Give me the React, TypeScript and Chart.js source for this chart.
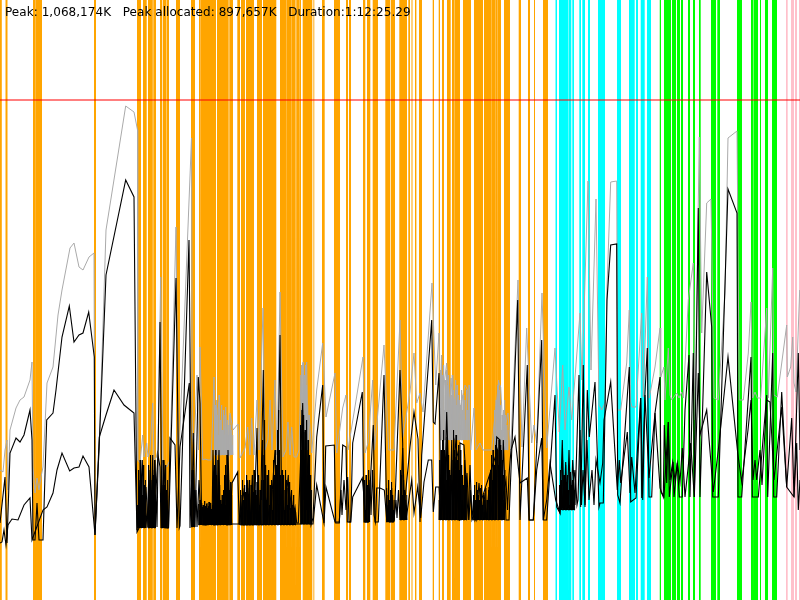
import React, { useEffect, useRef } from "react";
import { Chart, registerables } from "chart.js";

Chart.register(...registerables);

const summaryText = "Peak: 1,068,174K   Peak allocated: 897,657K   Duration:1:12:25.29";
const peakLevel = 500;

const orangeSpans = [[0,1.8],[5.5,7.5],[32,32.6],[33,35.2],[35.6,42],[94,96],[137,141],[143,146.7],[148,152.8],[153.3,156],[160,162.3],[163,166],[166.7,169],[176,180],[191,195],[198,198.6],[199,200],[200.4,216],[217,228.7],[229.3,233],[237.3,240],[241,245],[246,254],[257,262],[263,276.3],[280,286],[286.4,291],[291.4,295],[295.6,296],[296.4,299],[299.4,301],[302.7,312.3],[313.4,314.3],[322,324.7],[334,340],[341,341.5],[346,348],[349,351],[363,365.3],[367,370.3],[372.7,378],[385.3,390.3],[391,395],[399.3,407],[408.3,410],[411.5,412.5],[415,416.4],[419,422],[432.7,434],[438.7,440],[442,444],[447,450.7],[452,454],[454.5,460],[463,471],[474,483],[484,491],[491.4,495],[495.4,497],[497.4,501],[504,510],[518.7,521],[528,530],[534,535],[543,548]];
const cyanSpans = [[555.3,557],[559,568],[568.7,571.3],[572.3,574],[579.3,581],[582.3,585],[588,590],[598,604.3],[604.3,605],[617,621],[629,634],[634.5,635],[636,638],[640.7,644.7],[647,651]];
const greenSpans = [[659.5,661],[664,671],[672,676],[677,680],[681,683],[688,690],[693,695],[699,700.7],[711,716],[717.3,720],[737,742],[751,753],[753.7,758],[760,761],[765,768],[772,777]];
const pinkSpans = [[786,787.7],[791,794],[795,797],[799,800]];

const totalPoints = [[0,130],[3,128],[5,150],[7,160],[8,110],[10,170],[16,192],[20,200],[24,203],[30,220],[32,238],[33,133],[35,107],[37,122],[39,110],[41,123],[43,133],[47,217],[53,233],[58,285],[62,310],[70,352],[74,357],[79,333],[83,330],[89,343],[94,347],[95,67],[99,150],[106,370],[125.7,494],[134,488],[137.5,470],[137.7,140],[140,137],[142.7,165],[144,143],[146.7,157],[148,143],[150,150],[152.7,197],[154,140],[156,142],[158,150],[160.7,323],[163,137],[166.7,133],[170,140],[176,373],[178.3,140],[180,170],[191.5,462],[192.3,165],[194,150],[197,225],[198.5,150],[200,253],[202.7,140],[205,141],[208,140],[211,140],[212,165],[213,190],[214,223],[215,150],[216,185],[217,150],[218,190],[219,198],[220,150],[221,175],[222,145],[223,170],[224,145],[225.7,193],[227,150],[228,175],[229,145],[230,187],[233,170],[238,176],[240,142],[245,152],[247.7,173],[250,145],[251.7,182],[254,145],[257,200],[259,150],[263,292],[265,150],[268,160],[270,200],[272,150],[275,220],[277,145],[280,308],[283,143],[286,150],[288,178],[290,145],[291.7,173],[294,143],[296.7,143],[299,150],[301,225],[302,160],[303,237],[304.5,170],[306.7,238],[308,160],[309,185],[311.7,147],[316.7,210],[322.7,257],[326,183],[335,227],[336.7,147],[342.7,192],[346,205],[348,150],[363,243],[365,147],[368,157],[372.7,220],[374.5,150],[384,255],[388.7,150],[394,150],[400,280],[402.7,163],[410,208],[414,247],[416.7,197],[420,207],[423,188],[432,317],[435.7,215],[439,267],[441,190],[446.7,237],[449,193],[451,222],[453,193],[456.7,210],[459.3,187],[465,215],[467.7,210],[470.7,150],[474,192],[476,150],[480,157],[483,150],[491.7,150],[494,175],[498.7,218],[500.7,213],[503.3,163],[508,187],[510.7,150],[518,320],[522,153],[526.7,272],[531.7,157],[534,175],[536.7,157],[542,307],[546.7,152],[555,252],[559.3,168],[562.7,235],[565,170],[569,213],[571.7,180],[580,287],[582,220],[588,419],[591,230],[596,401],[599,195],[601.7,190],[605,197],[607,313],[610.7,418],[616.7,419],[617.7,190],[620.7,190],[626.7,237],[629.3,290],[630.7,198],[632,193],[636,193],[641.7,287],[643.3,203],[647.3,323],[649.3,202],[655,233],[660,272],[660.7,223],[664,233],[665,200],[668.3,252],[670,205],[671.7,200],[676.7,207],[679,202],[681.7,208],[683.3,202],[688.3,300],[693.3,337],[695,180],[699.3,463],[701.7,267],[706.7,397],[711,401],[714,202],[718.3,200],[725,307],[728,462],[737,469],[739.3,200],[743.3,200],[748.3,247],[751,298],[752.7,202],[755,208],[757.3,202],[760.7,202],[766.7,292],[768.3,202],[772.7,332],[774,205],[777.3,203],[786.7,275],[787.3,223],[790.7,233],[792.7,263],[794,217],[796,208],[799.7,310]];

const allocatedPoints = [[0,77],[5,123],[7,57],[10,147],[16,162],[20,158],[24,165],[30,190],[32,160],[33,60],[35,60],[37,97],[39,60],[41,60],[43,60],[46.7,180],[53,187],[56,210],[62,263],[69.3,294],[74,258],[79,265],[83,267],[88.7,288],[94.3,243],[95,65],[99,150],[106,325],[125.7,420],[134,403],[137,68],[139,72],[142.3,140],[144,73],[146,113],[148,73],[150,117],[151,73],[152.7,145],[154,73],[155,140],[157,73],[160,278],[162,72],[164,140],[166,72],[168.5,72],[176,322],[179.3,72],[180,74],[189,360],[191.7,73],[193.3,167],[195,73],[198.3,223],[200,197],[201.7,75],[203,95],[204,75],[205,93],[206,75],[207,97],[208,75],[209,92],[210,75],[211,90],[212,75],[213,150],[214.5,75],[216,150],[217,75],[219,150],[220,75],[221,100],[222,75],[223,90],[224,75],[226,125],[227,75],[228,150],[230,75],[232,117],[237.7,128],[239.3,75],[244.3,112],[245,75],[247.7,120],[250,75],[252.3,125],[254,75],[257,172],[258.3,75],[261,110],[263.3,230],[265,75],[266,100],[268,90],[270,75],[272,105],[275,150],[277,75],[280,265],[281.7,75],[283,100],[285,75],[286,100],[288.3,125],[289,90],[291,105],[293,85],[295,93],[296.7,77],[298.3,77],[302.7,197],[304,100],[305,168],[306.5,90],[308,150],[310,90],[311,75],[313,82],[316.7,163],[322.7,215],[324,77],[325.7,154],[334.3,155],[335.7,77],[339.3,77],[342.7,155],[346,153],[347.3,78],[350.7,78],[352.7,157],[362.3,208],[364,78],[368.3,78],[373.3,175],[375,78],[378.3,78],[384,225],[386.7,87],[389,78],[393.3,78],[394.3,80],[400,230],[402.7,157],[403,80],[410,153],[414,188],[418,161],[420,78],[421.7,145],[431.7,280],[433.3,178],[435,176],[439,227],[441,80],[443,150],[444,80],[446.7,188],[450,80],[451.7,160],[453,80],[455,143],[459,80],[460,157],[464,155],[468.3,80],[470,135],[472,80],[474,85],[476,80],[479,117],[481.7,80],[484,107],[486.7,80],[489,113],[492.7,80],[496.7,163],[500,160],[501.7,80],[503.3,160],[506,80],[509,80],[517.7,300],[520,80],[527.3,235],[529.3,80],[533.3,80],[541.7,260],[543.3,80],[546.7,80],[555,205],[556.7,93],[560,87],[562.3,160],[564,90],[565.7,138],[567.3,92],[569,150],[570.7,90],[572.7,140],[575,95],[579,225],[580.7,93],[583.3,235],[585,93],[587.3,210],[589.3,163],[595,218],[599,93],[600,97],[603.3,97],[607,300],[610.7,355],[616.7,356],[617.7,105],[620,97],[629.3,233],[630.7,98],[636,102],[640.7,202],[641.7,102],[645,207],[647.3,252],[649,103],[651.7,103],[655,187],[660,223],[661,108],[664,103],[668.3,178],[669.3,103],[673,138],[674,103],[677.3,137],[679.3,103],[682.3,103],[685,190],[689,245],[690,103],[693.3,247],[694.3,103],[698.3,392],[700,103],[706.7,328],[711.7,273],[712.7,103],[718.3,103],[728,411],[737,387],[738,103],[741.7,103],[751,243],[752.3,103],[758.3,103],[766.7,205],[767.7,103],[772.7,247],[773.7,103],[776.7,103],[781.7,208],[786.7,113],[794,103],[798.3,247],[800,150]];

const livePoints = [[0,57],[2,58],[4,70],[6,55],[8,75],[12,81],[18,80],[24,95],[30,102],[32,60],[43,90],[47,93],[53,107],[57,130],[62,147],[69.7,129],[74,132],[79,133],[83,144],[89,133],[95,65],[99.3,163],[106,185],[114,210],[124,195],[134,187],[137,70],[140,120],[141,72],[145,105],[147,72],[149,130],[150.5,72],[152,120],[153.5,72],[156,110],[158,145],[160,133],[161,72],[163,115],[165,72],[167,100],[168.5,72],[170,162],[175,155],[177,72],[180,153],[189.3,217],[190,72],[192,130],[194,73],[196,110],[197,73],[199,120],[200.5,90],[213.5,75],[231,76],[239,76],[240.5,100],[242,75],[300,76],[313,76],[316.7,115],[324,77],[326,113],[335,78],[339.3,78],[341,110],[342,85],[344,120],[346,90],[347.7,123],[349,78],[350.7,78],[352.7,103],[362.3,122],[364,103],[365.5,78],[368,78],[370,120],[371,85],[372.5,130],[374,85],[375.5,78],[376.7,112],[380,112],[384.3,110],[386.7,80],[388,95],[389.5,78],[391.7,112],[392.5,80],[394,80],[396,100],[397,82],[398.5,110],[400,80],[402.7,152],[404,110],[407,87],[411.7,120],[414,87],[417.7,113],[420.7,82],[424,118],[428.3,140],[431.7,140],[433.3,88],[435.7,113],[439,113],[441,80],[443,120],[445,80],[447,163],[449,80],[452,120],[453.5,80],[455,158],[458,143],[459.5,80],[463,82],[467,127],[469,80],[470.5,110],[472,80],[473.5,100],[475,80],[497.5,150],[498.5,80],[506,120],[507.5,90],[509,125],[511,150],[515,163],[520,117],[527.3,122],[529,80],[533.3,80],[536.7,130],[541.7,162],[543.3,80],[546.7,100],[550,137],[555.7,100],[560,87],[561,115],[562.5,92],[564,125],[565,90],[567,115],[568.5,92],[570,125],[571.5,90],[573,115],[575,130],[577,95],[578,100],[580,170],[581.5,95],[583,130],[585,95],[587,160],[589,100],[592,130],[594,95],[596,140],[600,117],[602.7,137],[604,180],[610.7,218],[617.3,110],[619.3,140],[620.7,117],[627.3,168],[630,107],[631.7,143],[635,107],[637.3,148],[640.7,202],[642.7,100],[645,205],[649,122],[655,187],[660,112],[663.3,103],[664.3,175],[666.7,117],[668.3,178],[670,120],[672.7,138],[675,120],[677.3,137],[680,118],[682.3,152],[685,103],[690.7,157],[694.3,103],[698.3,227],[700,165],[706.7,190],[713.3,108],[718.3,150],[728,243],[737.7,147],[741.7,118],[748,170],[751,200],[753,120],[755,140],[756.7,120],[760,150],[762,115],[766.7,200],[770,198],[774,120],[781.7,193],[786.7,113],[791.7,182],[794,103],[796.7,157],[798.3,90],[800,120]];

// Short bursts of samples: [first x, floor level, peak of each sample]
const liveBursts: [number, number, number[]][] = [
  [137.5, 72, [95,130,85,110,140,90,125,80,105,135,95,115,85,120]],
  [148, 72, [100,135,90,120,145,85,110,130,95,125,90,140,105]],
  [161, 72, [95,120,85,140,100,115,90,135,85,110,95,120]],
  [191, 73, [90,120,80,130,95,110,85]],
  [198.5, 75, [96,90,100,92,88,97,93,89,95,91,99,94,90,96,92,88,94,98,90,93,97,91,89,95,120,105,135,100,150,110,125,95,140,105,115,90,100,88,96,105,92,110,100,125,95,135,110,145,100,120,90,110,95,118,100,105]],
  [240, 75, [95,110,88,105,120,92,100,115,85,108,125,95,112,90,105,120,98,88,115,100,125,92,108,130,95,110,85,105,118,90,100,125,95,110,88,120,100]],
  [262, 75, [130,160,120,145,180,110,135,100,125,90,110,130,95,115,85,105,120,90,110,140,100,125,150,115,135,170,120,190,150,110,125,95,105,130,100,115,125,90,110,130,100,120,95,112,88,105,118,92,100,110,85,95,105,82,92,80,88]],
  [300, 76, [130,175,150,190,165,145,185,130,170,155,140,180,125,160,110,145,100,125,90,110]],
  [364, 78, [100,120,90,125,85,115,105,130,95,110]],
  [386, 78, [95,112,85,105,120,90,100,110,88,118,95,105,90,100]],
  [400, 80, [130,110,125,95,105,120,90,110,100,85,95,105]],
  [439, 80, [100,140,90,150,110,160,95,170,100,150,85,140,120,160,100,145,90,130,105,125]],
  [451, 80, [120,150,100,140,170,110,150,130,165,100,140,120,155,95,130,150,110,135,100,125,90,115,140,100,125,95,120]],
  [473, 80, [105,90,115,85,100,118,88,110,95,105,85,100,112,90,115,85,95,105,88,100,90,112,85,100,95,110,105,125,100,130,115,145,120,150,110,135,125,155,130,160]],
  [497.5, 80, [150,135,160,120,155,130,150,110,140,100,125,115,130]],
  [559, 90, [115,95,130,100,120,92,140,105,125,95,135,100,118,92,125,105,110,95,128,100,115,92,120,98,130,100,110]],
];

const totalBursts: [number, number, number[]][] = [
  [214, 145, [210,180,195,170,200,175,185,165,205,190,160,180,195,170,150,175,190,165,185,155,170,160,180,150,165,185,160,175,150,170,155,165]],
  [301, 150, [220,235,200,238,210,225,190,235,215,200,180,195,170,185]],
  [440, 160, [230,205,245,195,225,210,235,190,220,200,230,180,215,190,225,200,185,215,195,205,225,190,210,185,200,220,180,195,215,175,205,185,200,175,195,210,170,190,205,165,185,200,160,180,210,170,190,160,215,175]],
  [494, 150, [170,190,165,200,180,215,190,220,200,210,180,195,170,185,160,190,175,200,165,185,155,175,160,170]],
];

const sampleStep = 0.6;

const toXY = (pts: number[][]) => pts.map(([x, y]) => ({ x, y }));
const burstsToXY = (bursts: [number, number, number[]][]) =>
  bursts.map(([start, floor, peaks]) =>
    peaks.flatMap((peak, i) => {
      const x = start + i * sampleStep;
      return [
        { x, y: floor },
        { x: x + sampleStep / 2, y: peak },
      ];
    })
  );
const spansToArea = (spans: number[][], top: number) =>
  spans.flatMap(([a, b]) => [
    { x: a, y: 0 },
    { x: a, y: top },
    { x: b, y: top },
    { x: b, y: 0 },
  ]);

const summaryPlugin = {
  id: "summary",
  afterDatasetsDraw(chart: any) {
    const { ctx } = chart;
    ctx.save();
    ctx.fillStyle = "#000";
    ctx.font = "12px 'DejaVu Sans'";
    ctx.letterSpacing = "0.05px";
    ctx.textBaseline = "alphabetic";
    ctx.fillText(summaryText, 5, 16);
    ctx.restore();
  },
};

export default function App() {
  const ref = useRef<HTMLCanvasElement>(null);
  useEffect(() => {
    document.body.style.margin = "0";
    const top = 600;
    const band = (data: any, color: string) => ({
      data,
      showLine: true,
      borderWidth: 0,
      backgroundColor: color,
      borderColor: color,
      fill: "origin",
      pointRadius: 0,
      tension: 0,
    });
    const line = (data: any, color: string, width: number) => ({
      data,
      showLine: true,
      borderColor: color,
      backgroundColor: color,
      borderWidth: width,
      fill: false,
      pointRadius: 0,
      tension: 0,
    });
    const chart = new Chart(ref.current!, {
      type: "scatter",
      plugins: [summaryPlugin],
      data: {
        datasets: [
          line([{ x: 0, y: peakLevel }, { x: 800, y: peakLevel }], "rgba(255,0,0,0.5)", 2),
          line(toXY(livePoints), "#000000", 1.1),
          line(toXY(allocatedPoints), "#000000", 1.1),
          ...burstsToXY(liveBursts).map((d) => line(d, "#000000", 1)),
          line(toXY(totalPoints), "#aaaaaa", 1),
          ...burstsToXY(totalBursts).map((d) => line(d, "#aaaaaa", 1)),
          band(spansToArea(pinkSpans, top), "#ffc0cb"),
          band(spansToArea(greenSpans, top), "#00ff00"),
          band(spansToArea(cyanSpans, top), "#00ffff"),
          band(spansToArea(orangeSpans, top), "#ffa500"),
        ] as any,
      },
      options: {
        animation: false,
        responsive: false,
        devicePixelRatio: 1,
        layout: { padding: 0 },
        plugins: { legend: { display: false }, tooltip: { enabled: false }, title: { display: false } },
        scales: {
          x: { type: "linear", min: 0, max: 800, display: false },
          y: { type: "linear", min: 0, max: 600, display: false },
        },
      },
    });
    return () => chart.destroy();
  }, []);
  return (
    <div style={{ width: 800, height: 600, background: "#fff" }}>
      <canvas ref={ref} width={800} height={600} style={{ display: "block" }} />
    </div>
  );
}
